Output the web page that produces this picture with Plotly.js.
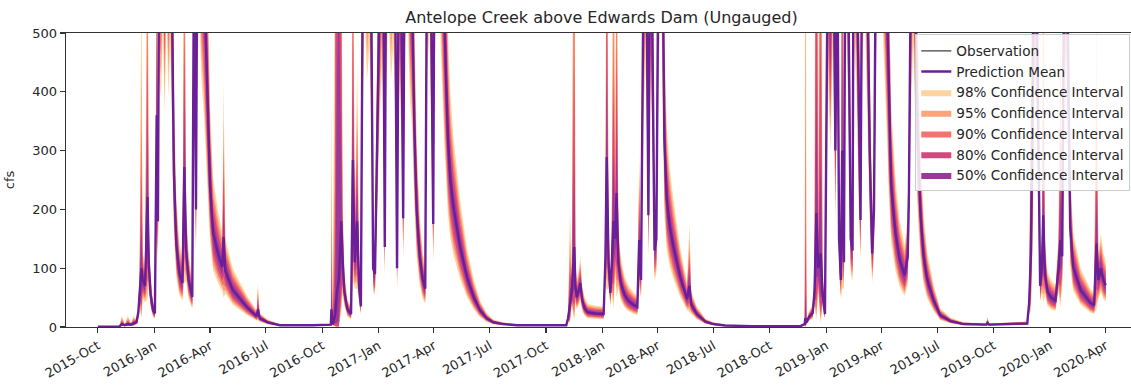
<!DOCTYPE html>
<html>
<head>
<meta charset="utf-8">
<script src="https://cdn.plot.ly/plotly-3.0.1.min.js"></script>
<style>
html, body { margin: 0; padding: 0; overflow: hidden; background: #fff; }
#chart { width: 1140px; height: 387px; }
</style>
</head>
<body>
<div id="chart"></div>
<script>
// ---- data ----
const dates = [
  '2015-10-01','2015-11-05','2015-11-09','2015-11-14','2015-11-19','2015-11-24','2015-11-28','2015-12-03','2015-12-06','2015-12-08',
  '2015-12-11','2015-12-13','2015-12-17','2015-12-21','2015-12-23','2015-12-26','2015-12-30','2016-01-02','2016-01-05','2016-01-07',
  '2016-01-09','2016-01-12','2016-01-15','2016-01-18','2016-01-21','2016-01-24','2016-01-27','2016-01-30','2016-02-02','2016-02-06',
  '2016-02-11','2016-02-16','2016-02-19','2016-02-22','2016-02-26','2016-03-03','2016-03-06','2016-03-09','2016-03-11','2016-03-14',
  '2016-03-18','2016-03-22','2016-03-25','2016-03-28','2016-04-01','2016-04-06','2016-04-14','2016-04-21','2016-04-23','2016-04-26',
  '2016-05-08','2016-05-31','2016-06-16','2016-06-18','2016-06-21','2016-07-04','2016-07-24','2016-09-15','2016-10-10',
  '2016-10-15','2016-10-16','2016-10-18','2016-10-22','2016-10-25','2016-10-28','2016-11-01','2016-11-03','2016-11-06','2016-11-11',
  '2016-11-17','2016-11-20','2016-11-23','2016-11-27','2016-11-30','2016-12-03','2016-12-06','2016-12-09','2016-12-13','2016-12-17',
  '2016-12-20','2016-12-23','2016-12-26','2017-01-03','2017-01-07','2017-01-09','2017-01-11','2017-01-13','2017-01-17','2017-01-21',
  '2017-01-25','2017-01-28','2017-01-31','2017-02-03','2017-02-07','2017-02-10','2017-02-13','2017-02-17','2017-02-21','2017-02-25',
  '2017-02-28','2017-03-04','2017-03-09','2017-03-14','2017-03-18','2017-03-21','2017-03-25','2017-03-28','2017-03-31','2017-04-02',
  '2017-04-06','2017-04-10','2017-04-14','2017-04-18','2017-04-21','2017-04-24','2017-04-28','2017-05-03','2017-05-14','2017-05-25',
  '2017-06-05','2017-06-15','2017-06-26','2017-07-07','2017-07-23','2017-08-15','2017-10-15','2017-11-03',
  '2017-11-06','2017-11-09','2017-11-12','2017-11-16','2017-11-18','2017-11-20','2017-11-23','2017-11-26','2017-11-29','2017-12-03',
  '2017-12-08','2017-12-20','2018-01-03','2018-01-06','2018-01-08','2018-01-11','2018-01-14','2018-01-16','2018-01-19','2018-01-22',
  '2018-01-24','2018-01-27','2018-01-31','2018-02-06','2018-02-12','2018-02-20','2018-02-27','2018-03-02','2018-03-05','2018-03-09',
  '2018-03-13','2018-03-17','2018-03-20','2018-03-23','2018-03-27','2018-03-30','2018-04-03','2018-04-07','2018-04-10','2018-04-12',
  '2018-04-16','2018-04-21','2018-04-27','2018-05-08','2018-05-19','2018-05-23','2018-05-26','2018-06-04','2018-06-18','2018-07-01',
  '2018-07-20','2018-09-01','2018-11-20',
  '2018-11-27','2018-11-28','2018-11-30','2018-12-04','2018-12-10','2018-12-13','2018-12-16','2018-12-19','2018-12-23','2018-12-26',
  '2018-12-30','2019-01-04','2019-01-08','2019-01-12','2019-01-16','2019-01-19','2019-01-22','2019-01-25','2019-01-27','2019-01-30',
  '2019-02-02','2019-02-06','2019-02-10','2019-02-13','2019-02-15','2019-02-19','2019-02-23','2019-02-26','2019-03-01','2019-03-05',
  '2019-03-09','2019-03-13','2019-03-17','2019-03-20','2019-03-24','2019-03-28','2019-04-02','2019-04-07','2019-04-11','2019-04-13',
  '2019-04-17','2019-04-24','2019-05-01','2019-05-09','2019-05-14','2019-05-16','2019-05-19','2019-05-23','2019-05-27','2019-05-30',
  '2019-06-04','2019-06-09','2019-06-15','2019-06-25','2019-07-06','2019-07-23','2019-08-13','2019-09-19','2019-09-21','2019-09-24',
  '2019-11-25',
  '2019-11-28','2019-12-01','2019-12-04','2019-12-07','2019-12-10','2019-12-13','2019-12-16','2019-12-19','2019-12-21','2019-12-24',
  '2019-12-28','2020-01-03','2020-01-10','2020-01-15','2020-01-18','2020-01-21','2020-01-24','2020-01-28','2020-01-31','2020-02-03',
  '2020-02-08','2020-02-20','2020-03-07','2020-03-13','2020-03-17','2020-03-20','2020-03-24','2020-03-28','2020-04-01'
];
const meanCfs = [
  0.5,0.8,5,3,5,4,6,8,25,60,
  100,80,70,221,110,55,28,23,360,180,
  700,650,850,600,900,650,800,550,260,140,
  90,75,272,130,80,51,700,200,650,900,
  700,600,500,370,240,160,125,102,153,95,
  63,34,18,30,15,8,3,3,3,
  4,30,5,20,60,80,180,120,60,30,
  22,284,110,180,70,35,600,900,700,800,
  550,100,90,600,750,520,136,650,900,700,
  800,600,100,700,560,185,800,900,650,550,
  350,200,120,80,65,700,850,550,175,700,
  1000,900,700,520,420,320,250,204,136,85,
  51,29,15,8,5,3,2.5,3,
  15,40,60,136,70,51,60,75,45,32,
  25,23,22,120,289,110,58,100,180,150,
  228,110,75,55,45,38,34,148,80,600,
  750,190,700,550,130,150,750,900,550,320,
  216,170,136,85,48,70,38,22,9,5,
  2.5,1.5,1.5,
  5,15,8,17,24,60,194,100,125,60,
  22,700,500,800,300,700,150,80,300,110,
  900,600,150,130,800,700,350,182,750,900,
  600,300,125,200,800,1000,900,700,500,380,
  240,160,114,88,120,230,600,800,520,330,
  190,120,80,46,20,10,5,4,7,4,
  6,
  40,125,400,700,600,300,70,100,190,90,
  60,50,45,100,148,120,600,700,400,170,
  102,63,41,37,142,80,100,80,71
];
// days where the uncertainty is wider than usual (band exponent)
const spreadDates  = ['2015-11-09','2015-11-19','2015-11-28','2015-12-11','2015-12-21','2016-01-05','2016-02-19','2016-04-23','2016-06-18',
  '2016-10-16','2016-10-22','2016-10-25','2016-10-28','2016-11-01','2016-11-03','2016-11-20','2016-11-27',
  '2017-11-09','2017-11-16','2018-01-08','2018-01-19','2018-01-24','2018-03-02','2018-05-23',
  '2018-11-28','2018-12-16','2018-12-23','2019-01-27','2019-09-21',
  '2019-12-01','2019-12-04','2019-12-21','2020-01-18','2020-03-17'];
const spreadValues = [3,3,2.5,4,3,1.5,2.5,2.2,2,
  5.6,8,14,14,4,1.5,2.5,2,
  3.5,5,3,3.5,3,1.5,2,
  10,5.5,6,3,2,
  3,2,3,3,3];
const bandLabels  = ['98% Confidence Interval','95% Confidence Interval','90% Confidence Interval','80% Confidence Interval','50% Confidence Interval'];
const bandLow     = [0.60, 0.66, 0.71, 0.77, 0.86];
const bandHigh    = [1.58, 1.46, 1.37, 1.27, 1.15];
const bandColors  = ['#fed49e', '#fca47b', '#f5736e', '#d4487f', '#9a3a98'];
const observation = [];   // ungauged site: no observations
const yTicks = [0, 100, 200, 300, 400, 500];

// ---- build traces ----
const spreadOf = d => { const i = spreadDates.indexOf(d); return i >= 0 ? spreadValues[i] : 1; };
const spreads = dates.map(spreadOf);
const traces = [];
bandLabels.forEach((lab, k) => {
  traces.push({
    x: dates, y: meanCfs.map((m, i) => m * Math.pow(bandLow[k], spreads[i])),
    type: 'scatter', mode: 'lines', line: {width: 0, color: bandColors[k]},
    showlegend: false, hoverinfo: 'skip'
  });
  traces.push({
    x: dates, y: meanCfs.map((m, i) => m * Math.pow(bandHigh[k], spreads[i])),
    type: 'scatter', mode: 'lines', line: {width: 0, color: bandColors[k]},
    fill: 'tonexty', fillcolor: bandColors[k], name: lab, legendrank: 3 + k,
    hoverinfo: 'skip'
  });
});
traces.push({
  x: dates, y: meanCfs, type: 'scatter', mode: 'lines',
  line: {color: '#6a1f98', width: 2.4}, name: 'Prediction Mean', legendrank: 2
});
traces.push({
  x: observation.length ? observation.map(o => o[0]) : [null],
  y: observation.length ? observation.map(o => o[1]) : [null],
  type: 'scatter', mode: 'lines', line: {color: '#404040', width: 1.2},
  name: 'Observation', legendrank: 1
});

const layout = {
  width: 1140, height: 387,
  margin: {l: 66, r: 3, t: 33, b: 60},
  paper_bgcolor: '#ffffff', plot_bgcolor: '#ffffff',
  font: {family: 'DejaVu Sans, sans-serif', size: 13, color: '#262626'},
  title: {text: 'Antelope Creek above Edwards Dam (Ungauged)', font: {size: 16, color: '#262626'},
          x: 0.5, xref: 'paper', y: 0.956, yref: 'container', yanchor: 'middle'},
  xaxis: {
    type: 'date', range: ['2015-08-10', '2020-05-22'],
    tick0: '2015-10-01', dtick: 'M3', tickformat: '%Y-%b', tickangle: -30,
    ticks: 'outside', ticklen: 5, tickwidth: 1.2, tickcolor: '#333',
    showline: true, linecolor: '#333', linewidth: 1.3, mirror: true,
    showgrid: false, zeroline: false, tickfont: {size: 13}
  },
  yaxis: {
    range: [0, 500], tickvals: yTicks, ticktext: yTicks.map(String),
    ticks: 'outside', ticklen: 5, tickwidth: 1.2, tickcolor: '#333',
    showline: true, linecolor: '#333', linewidth: 1.3, mirror: true,
    showgrid: false, zeroline: false, tickfont: {size: 13},
    title: {text: 'cfs', font: {size: 13}, standoff: 14}
  },
  legend: {
    x: 0.793, y: 0.995, xanchor: 'left', yanchor: 'top',
    bgcolor: 'rgba(255,255,255,0.85)', bordercolor: '#cccccc', borderwidth: 1,
    font: {size: 13.6, color: '#262626'}, traceorder: 'normal'
  },
  showlegend: true
};
Plotly.newPlot('chart', traces, layout, {displayModeBar: false, staticPlot: true});
</script>
</body>
</html>
